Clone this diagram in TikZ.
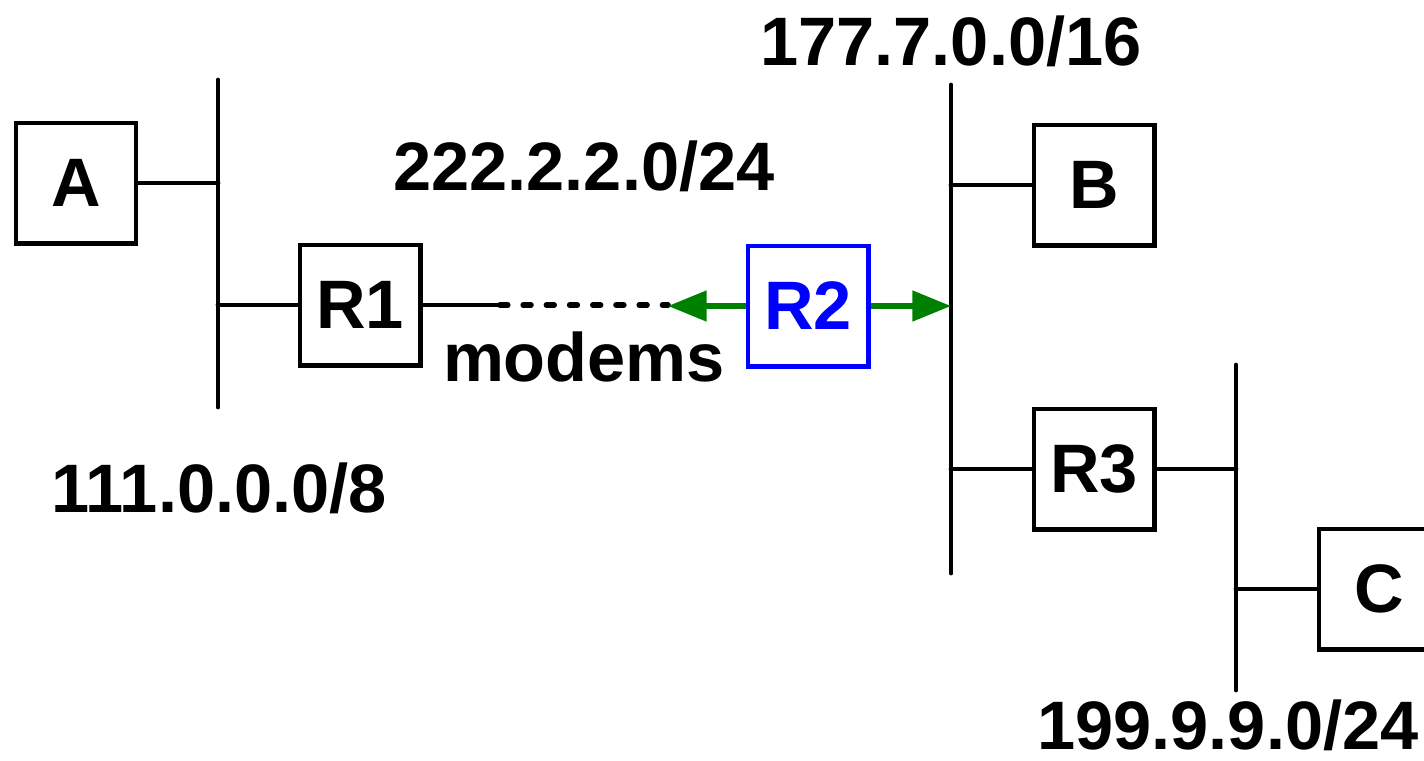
\documentclass[tikz,border=0pt]{standalone}
\usepackage{fontspec}
\setmainfont{Liberation Sans}
\usetikzlibrary{arrows.meta}
\definecolor{linkgreen}{RGB}{0,128,0}
\tikzset{
  host/.style={draw, line width=1.4pt, minimum size=1.2cm, inner sep=0pt},
  lan/.style={line width=1.4pt, line cap=round},
  link/.style={draw=linkgreen, line width=1.5pt, -{Triangle[length=11pt,width=8.5pt]}}
}
\begin{document}
\begin{tikzpicture}[x=0.01cm, y=-0.01cm, font=\fontsize{19.5}{22}\selectfont\bfseries]
  \useasboundingbox (0,0) rectangle (1424,760);
  % lan segments
  \coordinate (lanL) at (218,80);  \coordinate (lanLe) at (218,407);
  \coordinate (lanM) at (951,85);  \coordinate (lanMe) at (951,573);
  \coordinate (lanR) at (1236,365); \coordinate (lanRe) at (1236,690);
  \draw[lan] (lanL) -- (lanLe);
  \draw[lan] (lanM) -- (lanMe);
  \draw[lan] (lanR) -- (lanRe);

  % hosts and routers
  \node[host] (A)  at (76,183)   {A};
  \node[host] (R1) at (360,305)  {R1};
  \node[host, draw=blue, text=blue] (R2) at (808,306) {R2};
  \node[host] (B)  at (1094,185) {B};
  \node[host] (R3) at (1094,469) {R3};
  \node[host] (C)  at (1379,589) {C};

  \draw[lan] (A.east) -- (A.east -| lanL);
  \draw[lan] (R1.west) -- (R1.west -| lanL);
  \draw[lan] (B.west) -- (B.west -| lanM);
  \draw[lan] (R3.west) -- (R3.west -| lanM);
  \draw[lan] (R3.east) -- (R3.east -| lanR);
  \draw[lan] (C.west) -- (C.west -| lanR);

  % modem link
  \coordinate (modemL) at (500,305);
  \coordinate (modemR) at (668,305);
  \draw[lan] (R1.east) -- (R1.east -| modemL);
  \draw[lan, line width=1.6pt, dash pattern=on 2.2pt off 4.4pt] (R1.east -| modemL) -- (modemR);
  \draw[link] (R2.west) -- (R2.west -| modemR);
  \draw[link] (R2.east) -- (R2.east -| lanM);

  % network labels
  \node (n177) at (951,41)  {177.7.0.0/16};
  \node (n222) at (584,166) {222.2.2.0/24};
  \node (mdm)  at (584,357) {modems};
  \node (n111) at (219,488) {111.0.0.0/8};
  \node[inner sep=0pt] (n199) at (1228,725) {199.9.9.0/24};
\end{tikzpicture}
\end{document}
